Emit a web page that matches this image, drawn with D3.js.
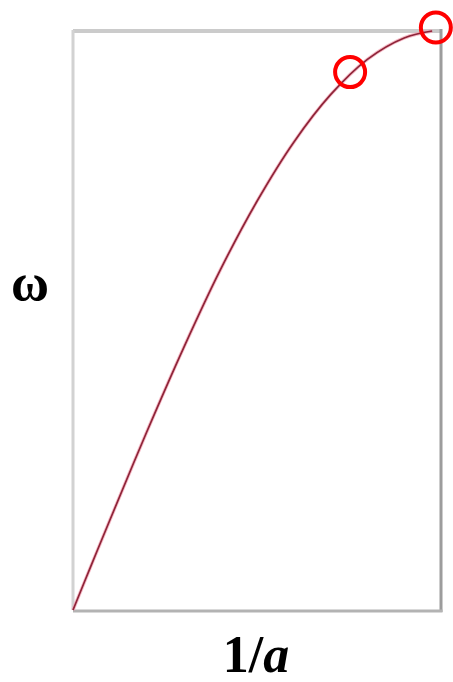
<!DOCTYPE html>
<html>
<head>
<meta charset="utf-8">
<script src="https://cdn.jsdelivr.net/npm/d3@7"></script>
<style>
  html, body { margin: 0; padding: 0; background: #fff; }
  svg { display: block; }
</style>
</head>
<body>
<svg id="chart" width="453" height="682"></svg>
<script>
// Dispersion-like curve: omega versus inverse length 1/a
const invA  = [0, 0.05, 0.10, 0.20, 0.30, 0.40, 0.50, 0.60, 0.70, 0.80, 0.90, 0.976];
const omega = [0, 0.078, 0.155, 0.307, 0.452, 0.587, 0.706, 0.808, 0.890, 0.951, 0.988, 1.000];

// Highlighted points on the curve
const markInvA  = [0.753, 0.986];
const markOmega = [0.929, 1.006];

const svg = d3.select("#chart");
const box = { left: 73, right: 441, top: 31, bottom: 610 };

const x = d3.scaleLinear().domain([0, 1]).range([box.left, box.right]);
const y = d3.scaleLinear().domain([0, 1]).range([box.bottom, box.top]);

// Frame: lighter top/left edges, darker right/bottom edges
svg.append("line").attr("x1", x(0)).attr("x2", x(1) + 1).attr("y1", y(1)).attr("y2", y(1))
  .attr("stroke", "#cbcbcb").attr("stroke-width", 4);
svg.append("line").attr("x1", x(0)).attr("x2", x(0)).attr("y1", y(1) - 1).attr("y2", y(0))
  .attr("stroke", "#d2d2d2").attr("stroke-width", 3);
svg.append("line").attr("x1", x(1)).attr("x2", x(1)).attr("y1", y(1) - 2).attr("y2", y(0) + 2)
  .attr("stroke", "#9c9c9c").attr("stroke-width", 3);
svg.append("line").attr("x1", x(0)).attr("x2", x(1) + 1.5).attr("y1", y(0) + 1).attr("y2", y(0) + 1)
  .attr("stroke", "#b3b3b3").attr("stroke-width", 3);

// Curve
const pts = invA.map((v, i) => [v, omega[i]]);
const line = d3.line().x(d => x(d[0])).y(d => y(d[1])).curve(d3.curveCatmullRom.alpha(0.5));
svg.append("path").datum(pts)
  .attr("d", line)
  .attr("fill", "none")
  .attr("stroke", "#f2a0b0")
  .attr("stroke-width", 3.4)
  .attr("opacity", 0.7);
svg.append("path").datum(pts)
  .attr("d", line)
  .attr("fill", "none")
  .attr("stroke", "#8e2438")
  .attr("stroke-width", 1.7);

// Circled points
svg.selectAll("circle.mark")
  .data(markInvA.map((v, i) => [v, markOmega[i]]))
  .join("circle")
  .attr("class", "mark")
  .attr("cx", d => x(d[0]))
  .attr("cy", d => y(d[1]))
  .attr("r", 15)
  .attr("fill", "none")
  .attr("stroke", "#ff0000")
  .attr("stroke-width", 4);

// Axis labels
svg.append("text")
  .attr("x", 30).attr("y", 300)
  .attr("text-anchor", "middle")
  .attr("font-family", "'Liberation Serif', 'Times New Roman', serif")
  .attr("font-weight", "bold")
  .attr("font-size", 52)
  .attr("fill", "#000")
  .text("ω");

const xl = svg.append("text")
  .attr("x", 256).attr("y", 672)
  .attr("text-anchor", "middle")
  .attr("font-family", "'Liberation Serif', 'Times New Roman', serif")
  .attr("font-weight", "bold")
  .attr("font-size", 52)
  .attr("fill", "#000");
xl.append("tspan").text("1/");
xl.append("tspan").attr("font-style", "italic").text("a");
</script>
</body>
</html>
